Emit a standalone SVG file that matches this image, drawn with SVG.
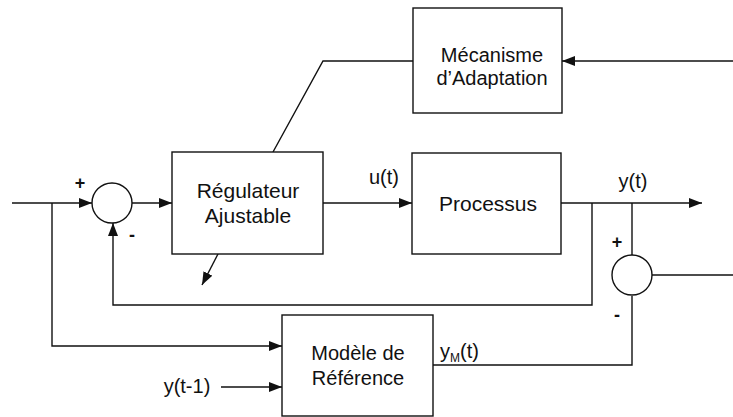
<svg xmlns="http://www.w3.org/2000/svg" width="733" height="417" viewBox="0 0 733 417">
<defs>
<marker id="ah" markerUnits="userSpaceOnUse" markerWidth="14" markerHeight="12" refX="13" refY="5" orient="auto">
<path d="M0,0 L13,5 L0,10 Z" fill="#111"/>
</marker>
<style>
.b{fill:#fff;stroke:#111;stroke-width:1.4}
.l{fill:none;stroke:#111;stroke-width:1.4}
.t{font-family:"Liberation Sans",Arial,sans-serif;font-size:20px;fill:#111;text-anchor:middle}
.s{font-family:"Liberation Sans",Arial,sans-serif;font-size:18px;font-weight:bold;fill:#111;text-anchor:middle}
</style>
</defs>
<g id="connectors">
<path class="l" d="M12,203 H92" marker-end="url(#ah)"/>
<path class="l" d="M132,203 H172" marker-end="url(#ah)"/>
<path class="l" d="M323,203 H412" marker-end="url(#ah)"/>
<path class="l" d="M561,203 H702" marker-end="url(#ah)"/>
<path class="l" d="M592,203 V305 H113 V223" marker-end="url(#ah)"/>
<path class="l" d="M52,203 V346 H282" marker-end="url(#ah)"/>
<path class="l" d="M221,387 H282" marker-end="url(#ah)"/>
<path class="l" d="M632,203 V255"/>
<path class="l" d="M652,275 H733"/>
<path class="l" d="M433,365 H632 V296"/>
<path class="l" d="M733,61 H562" marker-end="url(#ah)"/>
<path class="l" d="M413,61 H323 L273,152"/>
<path class="l" d="M218,254 L202,285" marker-end="url(#ah)"/>
</g>
<g id="sum1">
<circle class="b" cx="112" cy="203" r="20"/>
<text class="s" x="80" y="189">+</text>
<text class="s" x="132" y="241">-</text>
</g>
<g id="regulateur">
<rect class="b" x="172" y="152" width="151" height="102"/>
<text class="t" x="248" y="198" style="font-size:21px">Régulateur</text>
<text class="t" x="248" y="223" style="font-size:21px">Ajustable</text>
</g>
<g id="processus">
<rect class="b" x="412" y="153" width="149" height="101"/>
<text class="t" x="488" y="211" style="font-size:21px">Processus</text>
<text class="t" x="384" y="184">u(t)</text>
<text class="t" x="633" y="188">y(t)</text>
</g>
<g id="mecanisme">
<rect class="b" x="413" y="8" width="149" height="105"/>
<text class="t" x="492" y="62">Mécanisme</text>
<text class="t" x="492" y="85">d’Adaptation</text>
</g>
<g id="sum2">
<circle class="b" cx="632" cy="275" r="20"/>
<text class="s" x="617" y="248">+</text>
<text class="s" x="617" y="321">-</text>
</g>
<g id="modele">
<rect class="b" x="282" y="315" width="151" height="101"/>
<text class="t" x="358" y="360">Modèle de</text>
<text class="t" x="358" y="385">Référence</text>
<text class="t" x="440" y="358" style="text-anchor:start">y<tspan font-size="12" dy="4">M</tspan><tspan dy="-4">(t)</tspan></text>
<text class="t" x="187" y="393">y(t-1)</text>
</g>
</svg>
